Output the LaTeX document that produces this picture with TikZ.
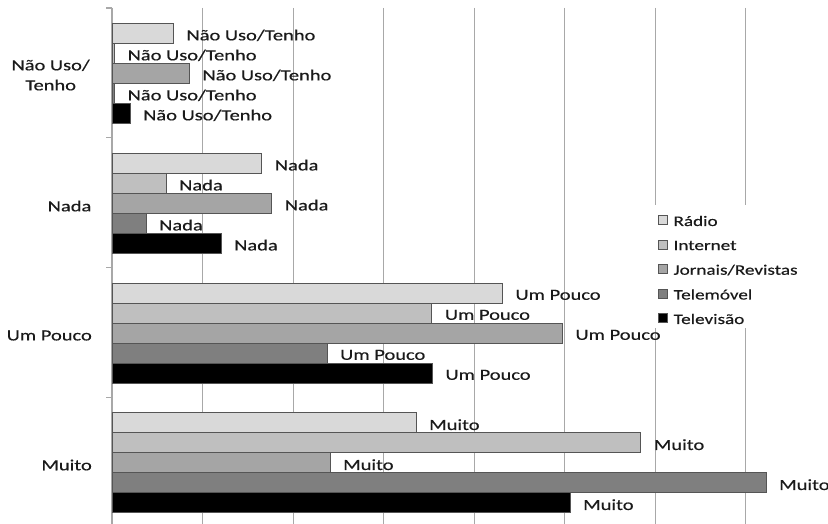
\documentclass[tikz,border=0pt]{standalone}
\usepackage{fontspec}
\setmainfont[FakeStretch=1.32,FakeBold=0.4]{Carlito}
\definecolor{cRadio}{HTML}{D9D9D9}
\definecolor{cInternet}{HTML}{BFBFBF}
\definecolor{cJornais}{HTML}{A5A5A5}
\definecolor{cTelemovel}{HTML}{7F7F7F}
\definecolor{cTelevisao}{HTML}{000000}
\definecolor{barline}{HTML}{555555}
\definecolor{gridc}{HTML}{A8A8A8}
\definecolor{textc}{HTML}{1A1A1A}
\newcommand\mybar[5]{%
  \node[barbox, fill=#4, minimum width=#3pt] (#1) at (112,#2+10) {};
  \node[lab] (#1-l) at ([xshift=13pt,yshift=-2pt]#1.east) {#5};
}
\begin{document}
\begin{tikzpicture}[x=1pt,y=-1pt,
  barbox/.style={draw=barline, line width=0.8pt, minimum height=20pt, inner sep=0pt, outer sep=0pt, anchor=west},
  lab/.style={anchor=west, inner sep=0pt, font=\fontsize{15.5}{18}\selectfont, text=textc},
  catlab/.style={anchor=east, inner sep=0pt, align=center, font=\fontsize{15.5}{20}\selectfont, text=textc},
  gridl/.style={draw=gridc, line width=1pt},
  axisl/.style={draw=gridc, line width=1.1pt},
  legsq/.style={draw=barline, line width=0.7pt, minimum width=9pt, minimum height=9pt, inner sep=0pt},
  leglab/.style={anchor=west, inner sep=0pt, font=\fontsize{14.5}{17}\selectfont, text=textc}]
\useasboundingbox[fill=white] (0,0) rectangle (828,524);
% grid
\foreach \j in {1,...,7} \draw[gridl] (112+90.5*\j,8) -- (112+90.5*\j,530);
% axis and ticks
\draw[axisl] (112,8) -- (112,530);
\foreach \yy in {8,137.8,267.6,397.4} \draw[axisl] (106,\yy) -- (112,\yy);
% legend background
\fill[white] (648,205) rectangle (806,328);
% category labels
\node[catlab] (c0) at (90,75) {Não Uso/\\Tenho};
\node[catlab] (c1) at (91.5,206) {Nada};
\node[catlab] (c2) at (92,335.5) {Um Pouco};
\node[catlab] (c3) at (92,465) {Muito};
% bars: Não Uso/Tenho
\mybar{a1}{23.3}{61.3}{cRadio}{Não Uso/Tenho}
\mybar{a2}{43.3}{2.5}{cInternet}{Não Uso/Tenho}
\mybar{a3}{63.3}{77.3}{cJornais}{Não Uso/Tenho}
\mybar{a4}{83.3}{2.5}{cTelemovel}{Não Uso/Tenho}
\mybar{a5}{103.3}{18}{cTelevisao}{Não Uso/Tenho}
% Nada
\mybar{b1}{153.1}{149.7}{cRadio}{Nada}
\mybar{b2}{173.1}{54}{cInternet}{Nada}
\mybar{b3}{193.1}{159.7}{cJornais}{Nada}
\mybar{b4}{213.1}{34}{cTelemovel}{Nada}
\mybar{b5}{233.1}{109}{cTelevisao}{Nada}
% Um Pouco
\mybar{c1b}{282.9}{390.3}{cRadio}{Um Pouco}
\mybar{c2b}{302.9}{319.7}{cInternet}{Um Pouco}
\mybar{c3b}{322.9}{450.3}{cJornais}{Um Pouco}
\mybar{c4b}{342.9}{215}{cTelemovel}{Um Pouco}
\mybar{c5b}{362.9}{320.3}{cTelevisao}{Um Pouco}
% Muito
\mybar{d1}{412.7}{304}{cRadio}{Muito}
\mybar{d2}{432.7}{528.7}{cInternet}{Muito}
\mybar{d3}{452.7}{218}{cJornais}{Muito}
\mybar{d4}{472.7}{654}{cTelemovel}{Muito}
\mybar{d5}{492.7}{458}{cTelevisao}{Muito}
% legend
\node[legsq, fill=cRadio] (g1) at (663,220) {};
\node[legsq, fill=cInternet] (g2) at (663,244.5) {};
\node[legsq, fill=cJornais] (g3) at (663,269) {};
\node[legsq, fill=cTelemovel] (g4) at (663,293.5) {};
\node[legsq, fill=cTelevisao] (g5) at (663,318) {};
\node[leglab] (g1-l) at ([xshift=5.5pt,yshift=-1pt]g1.east) {Rádio};
\node[leglab] (g2-l) at ([xshift=5.5pt,yshift=-1pt]g2.east) {Internet};
\node[leglab] (g3-l) at ([xshift=5.5pt,yshift=-1pt]g3.east) {Jornais/Revistas};
\node[leglab] (g4-l) at ([xshift=5.5pt,yshift=-1pt]g4.east) {Telemóvel};
\node[leglab] (g5-l) at ([xshift=5.5pt,yshift=-1pt]g5.east) {Televisão};
\end{tikzpicture}
\end{document}
